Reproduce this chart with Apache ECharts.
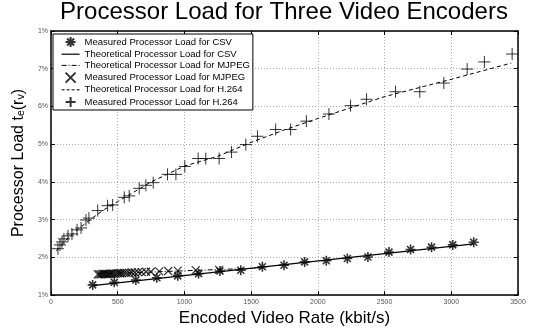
<!DOCTYPE html>
<html>
<head>
<meta charset="utf-8">
<style>
  html, body { margin: 0; padding: 0; background: #fff; }
  #chart { width: 534px; height: 332px; }
</style>
<script src="https://cdn.jsdelivr.net/npm/echarts@6/dist/echarts.min.js"></script>
</head>
<body>
<div id="chart"></div>
<script>
// tick labels as printed on the figure
const xTicks = [0, 500, 1000, 1500, 2000, 2500, 3000, 3500]
const yTickLabels = ['1%', '2%', '3%', '4%', '5%', '6%', '7%', '1%']

// CSV
const csvMeasRate = [312, 474, 636, 793, 950, 1106, 1266, 1422, 1584, 1746, 1901, 2063, 2221, 2375, 2533, 2695, 2852, 3011, 3168]
const csvMeasLoad = [1.27, 1.34, 1.40, 1.46, 1.51, 1.57, 1.64, 1.66, 1.75, 1.79, 1.88, 1.91, 1.97, 2.01, 2.14, 2.21, 2.27, 2.33, 2.40]
const csvTheoRate = [312, 3168]
const csvTheoLoad = [1.25, 2.36]

// MJPEG
const mjpegMeasRate = [350, 362, 374, 386, 398, 410, 422, 434, 446, 458, 470, 485, 500, 515, 530, 548, 566, 585, 605, 628, 652, 680, 712, 748, 811, 878, 950, 1085, 1260]
const mjpegMeasLoad = [1.55, 1.55, 1.55, 1.56, 1.56, 1.56, 1.56, 1.56, 1.57, 1.57, 1.57, 1.57, 1.58, 1.58, 1.58, 1.59, 1.59, 1.59, 1.60, 1.60, 1.61, 1.61, 1.62, 1.62, 1.63, 1.64, 1.65, 1.66, 1.67]
const mjpegTheoRate = [350, 1580]
const mjpegTheoLoad = [1.56, 1.72]

// H.264
const h264MeasRate = [52, 67, 82, 97, 127, 157, 195, 225, 262, 284, 350, 424, 462, 549, 586, 661, 711, 766, 873, 936, 1003, 1103, 1160, 1260, 1353, 1460, 1547, 1684, 1796, 1914, 2083, 2245, 2365, 2582, 2764, 2944, 3119, 3248, 3456]
const h264MeasLoad = [2.23, 2.33, 2.41, 2.49, 2.57, 2.62, 2.73, 2.78, 2.99, 3.04, 3.24, 3.37, 3.39, 3.59, 3.63, 3.83, 3.91, 3.98, 4.20, 4.20, 4.41, 4.62, 4.62, 4.62, 4.79, 4.99, 5.21, 5.39, 5.39, 5.61, 5.80, 6.02, 6.19, 6.39, 6.39, 6.62, 6.99, 7.18, 7.39]
const h264TheoRate = [40, 100, 200, 300, 400, 500, 750, 1000, 1250, 1500, 1750, 2000, 2500, 3000, 3450]
const h264TheoLoad = [2.17, 2.42, 2.74, 3.02, 3.27, 3.48, 4.00, 4.42, 4.68, 5.05, 5.38, 5.68, 6.26, 6.72, 7.15]

const FONT = 'Liberation Sans, Arial, Helvetica, sans-serif'
const starPath = 'path://M5 0L5 10M0 5L10 5M1.5 1.5L8.5 8.5M8.5 1.5L1.5 8.5'
const plusPath = 'path://M5 0L5 10M0 5L10 5'
const crossPath = 'path://M0 0L10 10M10 0L0 10'

const pairs = (xs, ys) => xs.map((x, i) => [x, ys[i]])

const markStyle = w => ({ color: 'rgba(0,0,0,0)', borderColor: '#000', borderWidth: w })
const noSymbol = { color: 'rgba(0,0,0,0)', borderColor: 'rgba(0,0,0,0)', borderWidth: 0 }

const frameAxis = {
  min: 0, max: 3500, interval: 500,
  axisLine: { onZero: false, lineStyle: { color: '#000', width: 1.5 } },
  axisTick: { inside: true, length: 4, lineStyle: { color: '#000' } }
}

const chart = echarts.init(document.getElementById('chart'))
chart.setOption({
  animation: false,
  backgroundColor: '#fff',
  textStyle: { fontFamily: FONT },
  title: {
    text: 'Processor Load for Three Video Encoders',
    left: 284, top: 0, textAlign: 'center', padding: 0,
    textStyle: { fontSize: 24, fontWeight: 'normal', color: '#000', fontFamily: FONT }
  },
  grid: { left: 50, right: 16, top: 31, bottom: 36 },
  legend: {
    orient: 'vertical',
    left: 53, top: 34,
    padding: [2, 3, 2, 8],
    itemWidth: 18, itemHeight: 10, itemGap: 1.2,
    backgroundColor: '#fff',
    borderColor: '#000', borderWidth: 1,
    z: 10,
    textStyle: { fontSize: 9.5, color: '#000', fontFamily: FONT },
    data: [
      { name: 'Measured Processor Load for CSV' },
      { name: 'Theoretical Processor Load for CSV', itemStyle: noSymbol, lineStyle: { color: '#000', width: 1.2, type: 'solid' } },
      { name: 'Theoretical Processor Load for MJPEG', itemStyle: noSymbol, lineStyle: { color: '#000', width: 1, type: [5, 2, 1, 2] } },
      { name: 'Measured Processor Load for MJPEG' },
      { name: 'Theoretical Processor Load for H.264', itemStyle: noSymbol, lineStyle: { color: '#000', width: 1, type: [3, 2] } },
      { name: 'Measured Processor Load for H.264' }
    ]
  },
  xAxis: [
    Object.assign({}, frameAxis, {
      type: 'value', position: 'bottom',
      name: 'Encoded Video Rate (kbit/s)',
      nameLocation: 'middle', nameGap: 7,
      nameTextStyle: { fontSize: 17, color: '#000', fontFamily: FONT, verticalAlign: 'top' },
      axisLabel: { fontSize: 7, color: '#555', margin: 3, formatter: v => String(xTicks[Math.round(v / 500)]) },
      splitLine: { show: true, lineStyle: { color: '#aaa', type: [1, 2], width: 1 } }
    }),
    Object.assign({}, frameAxis, {
      type: 'value', position: 'top',
      axisLabel: { show: false },
      splitLine: { show: false }
    })
  ],
  yAxis: [
    {
      type: 'value', position: 'left',
      min: 1, max: 8, interval: 1,
      axisLine: { onZero: false, lineStyle: { color: '#000', width: 1.5 } },
      axisTick: { inside: true, length: 4, lineStyle: { color: '#000' } },
      axisLabel: {
        fontSize: 7, color: '#555', margin: 3,
        formatter: v => yTickLabels[Math.round(v) - 1]
      },
      splitLine: { show: true, lineStyle: { color: '#aaa', type: [1, 2], width: 1 } },
      name: '{m|Processor Load t}{s|e}{m|(r}{s|v}{m|)}',
      nameLocation: 'middle', nameGap: 18, nameRotate: 90,
      nameTextStyle: {
        rich: {
          m: { fontSize: 16, lineHeight: 16, verticalAlign: 'top', color: '#000', fontFamily: FONT },
          s: { fontSize: 10.5, lineHeight: 10.5, padding: [8, 0, 0, 0], verticalAlign: 'bottom', color: '#000', fontFamily: FONT }
        }
      }
    },
    {
      type: 'value', position: 'right',
      min: 1, max: 8, interval: 1,
      axisLine: { onZero: false, lineStyle: { color: '#000', width: 1.5 } },
      axisTick: { inside: true, length: 4, lineStyle: { color: '#000' } },
      axisLabel: { show: false },
      splitLine: { show: false }
    }
  ],
  series: [
    {
      name: 'Measured Processor Load for CSV',
      type: 'scatter', symbol: starPath, symbolSize: 10,
      itemStyle: markStyle(1.6),
      data: pairs(csvMeasRate, csvMeasLoad), z: 4
    },
    {
      name: 'Theoretical Processor Load for CSV',
      type: 'line', symbol: 'none',
      lineStyle: { color: '#000', width: 1.2, type: 'solid' },
      itemStyle: noSymbol,
      data: pairs(csvTheoRate, csvTheoLoad), z: 3
    },
    {
      name: 'Theoretical Processor Load for MJPEG',
      type: 'line', symbol: 'none',
      lineStyle: { color: '#000', width: 1, type: [5, 2, 1, 2] },
      itemStyle: noSymbol,
      data: pairs(mjpegTheoRate, mjpegTheoLoad), z: 3
    },
    {
      name: 'Measured Processor Load for MJPEG',
      type: 'scatter', symbol: crossPath, symbolSize: 8,
      itemStyle: markStyle(1.2),
      data: pairs(mjpegMeasRate, mjpegMeasLoad), z: 4
    },
    {
      name: 'Theoretical Processor Load for H.264',
      type: 'line', symbol: 'none',
      lineStyle: { color: '#000', width: 1, type: [4, 3] },
      itemStyle: noSymbol,
      data: pairs(h264TheoRate, h264TheoLoad), z: 3
    },
    {
      name: 'Measured Processor Load for H.264',
      type: 'scatter', symbol: plusPath, symbolSize: 12,
      itemStyle: markStyle(1),
      data: pairs(h264MeasRate, h264MeasLoad), z: 4
    }
  ]
})
</script>
</body>
</html>
